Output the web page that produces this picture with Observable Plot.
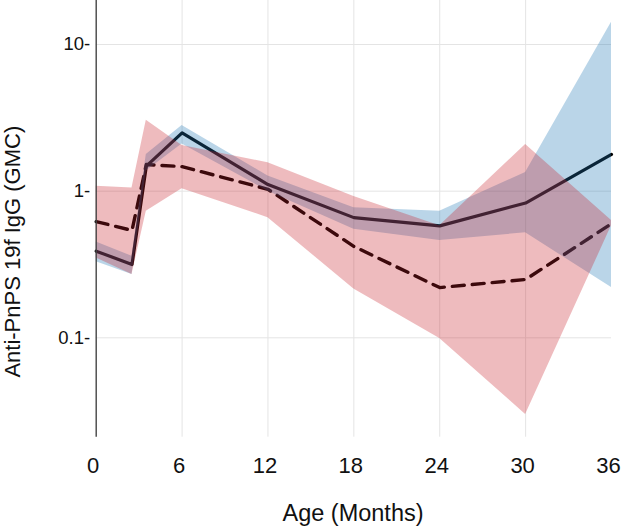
<!DOCTYPE html>
<html>
<head>
<meta charset="utf-8">
<script src="https://cdn.jsdelivr.net/npm/d3@7"></script>
<script src="https://cdn.jsdelivr.net/npm/@observablehq/plot@0.6"></script>
<style>
  html, body { margin: 0; padding: 0; background: #fff; }
  #chart { width: 621px; height: 527px; }
  svg { display: block; }
</style>
</head>
<body>
<div id="chart"></div>
<script>
// Age in months
const months = [0, 2.5, 3.5, 6, 12, 18, 24, 30, 36];
// Solid series (blue ribbon)
const solidGMC = [0.39, 0.316, 1.48, 2.5, 1.11, 0.66, 0.58, 0.83, 1.78];
const solidLo  = [0.33, 0.27, 1.37, 2.1, 1.0, 0.55, 0.46, 0.52, 0.22];
const solidHi  = [0.45, 0.36, 1.78, 2.8, 1.27, 0.77, 0.73, 1.34, 14.2];
// Dashed series (red ribbon)
const dashedGMC = [0.62, 0.54, 1.52, 1.47, 1.03, 0.42, 0.22, 0.25, 0.6];
const dashedLo  = [0.35, 0.27, 0.73, 1.04, 0.66, 0.215, 0.099, 0.030, 0.58];
const dashedHi  = [1.08, 1.05, 3.05, 2.05, 1.56, 0.92, 0.58, 2.08, 0.63];
// Ticks
const xTicks = [0, 6, 12, 18, 24, 30, 36];
const xGrid = [6, 12, 18, 24, 30];
const yTicks = [0.1, 1, 10];
const yTickLabels = ["0.1-", "1-", "10-"];
const xTitle = "Age (Months)";
const yTitle = "Anti-PnPS 19f IgG (GMC)";

const solid = months.map((m, i) => ({m, v: solidGMC[i], lo: solidLo[i], hi: solidHi[i]}));
const dashed = months.map((m, i) => ({m, v: dashedGMC[i], lo: dashedLo[i], hi: dashedHi[i]}));

const mL = 95.7, mR = 10, mT = 0, mB = 90.3;
const font = "'Liberation Sans', Arial, sans-serif";

const chart = Plot.plot({
  width: 621,
  height: 527,
  marginLeft: mL,
  marginRight: mR,
  marginTop: mT,
  marginBottom: mB,
  style: {fontFamily: font, color: "#111", background: "#fff", overflow: "visible"},
  x: {domain: [0, 36]},
  y: {type: "log", domain: [0.021, 19.96]},
  marks: [
    Plot.gridX(xGrid, {stroke: "#e4e4e4", strokeOpacity: 1, strokeWidth: 1}),
    Plot.gridY(yTicks, {stroke: "#e4e4e4", strokeOpacity: 1, strokeWidth: 1}),
    Plot.line(solid, {x: "m", y: "v", stroke: "#000", strokeWidth: 3.2}),
    Plot.line(dashed, {x: "m", y: "v", stroke: "#000", strokeWidth: 3.4, strokeDasharray: "12,8"}),
    Plot.areaY(solid, {x: "m", y1: "lo", y2: "hi", fill: "rgb(31,119,180)", fillOpacity: 0.31}),
    Plot.areaY(dashed, {x: "m", y1: "lo", y2: "hi", fill: "rgb(200,30,40)", fillOpacity: 0.3}),
    Plot.ruleX([0], {stroke: "#444", strokeWidth: 1.4}),
    Plot.axisY(yTicks, {
      tickSize: 0, tickPadding: 6, fontSize: 18.5, label: null,
      tickFormat: d => yTickLabels[yTicks.indexOf(d)]
    }),
    Plot.axisX(xTicks, {
      tickSize: 0, tickPadding: 20.6, fontSize: 22, label: null, dx: -3,
      tickFormat: d => String(d)
    })
  ]
});

document.getElementById("chart").appendChild(chart);

const svg = d3.select(chart);
svg.append("text")
  .attr("x", 353)
  .attr("y", 521)
  .attr("text-anchor", "middle")
  .attr("font-family", font)
  .attr("font-size", 23.5)
  .attr("fill", "#111")
  .text(xTitle);
svg.append("text")
  .attr("transform", "translate(20,251.7) rotate(-90)")
  .attr("text-anchor", "middle")
  .attr("font-family", font)
  .attr("font-size", 22)
  .attr("fill", "#111")
  .text(yTitle);
</script>
</body>
</html>
